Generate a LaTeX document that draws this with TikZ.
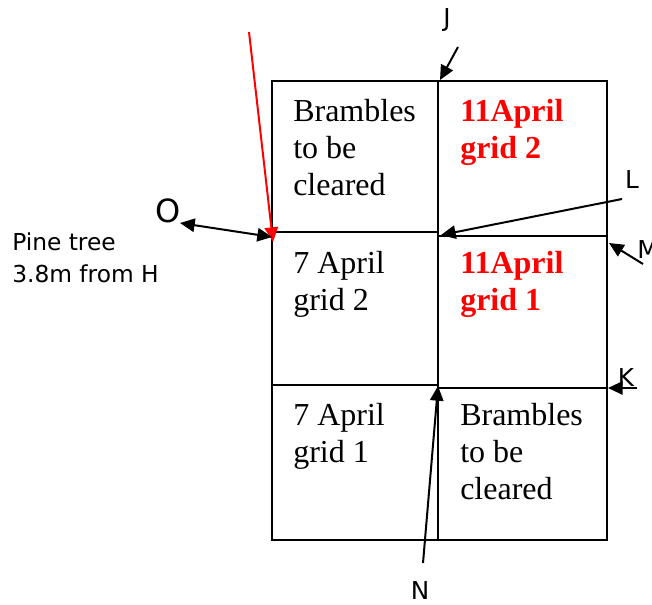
\documentclass[tikz,border=0pt]{standalone}
\usepackage{fontspec}
\setmainfont{Liberation Serif}
\newfontfamily\labelfont{DejaVu Sans}
\usetikzlibrary{arrows.meta,positioning}

\begin{document}
\begin{tikzpicture}[x=0.75pt,y=-0.75pt,
    cell/.style={draw,line width=0.8pt},
    celltext/.style={anchor=base west,align=left,inner sep=0pt,font=\fontsize{24}{27.75}\selectfont},
    redtext/.style={celltext,text=red,font=\fontsize{24}{27.75}\selectfont\bfseries},
    tag/.style={inner sep=0pt,font=\labelfont\fontsize{18.5}{24}\selectfont},
    pointer/.style={line width=1.5pt,-{Triangle[length=11pt,width=10pt]}}]

    \useasboundingbox (0,0) rectangle (652,604);

    % GRID
    % left column
    \draw[cell] (272,81) rectangle (438,232);
    \draw[cell] (272,232) rectangle (438,385);
    \draw[cell] (272,385) rectangle (438,540);
    % right column
    \draw[cell] (438,81) rectangle (607,236);
    \draw[cell] (438,236) rectangle (607,388);
    \draw[cell] (438,388) rectangle (607,540);

    % CELL TEXTS (base = last line)
    \node(b1) at (293,195) [celltext] {Brambles\\to be\\cleared};
    \node(r2) at (460,158) [redtext] {11April\\grid 2};
    \node(g2) at (293,310) [celltext] {7 April\\grid 2};
    \node(r1) at (460,310) [redtext] {11April\\grid 1};
    \node(g1) at (293,462) [celltext] {7 April\\grid 1};
    \node(b2) at (460,499) [celltext] {Brambles\\to be\\cleared};

    % LABELS
    \node(pine) at (12,282) [tag, anchor=base west, align=left, font=\labelfont\fontsize{17.5}{24}\selectfont] {Pine tree\\3.8m from H};
    \node(O) at (168,211) [tag, font=\labelfont\fontsize{24}{24}\selectfont] {O};
    \node(J) at (447,20) [tag] {J};
    \node(L) at (632,180) [tag] {L};
    \node(M) at (637,250) [tag, anchor=west] {M};
    \node(K) at (626,377) [tag] {K};
    \node(N) at (420,590) [tag] {N};

    % CORNERS
    \coordinate (cJ) at (440,80);
    \coordinate (cL) at (441,235);
    \coordinate (cH) at (272,237);
    \coordinate (cM) at (609,243);
    \coordinate (cK) at (608,388);
    \coordinate (cN) at (438,386);

    % FREE ENDS
    \coordinate (sRed) at (249,32);
    \coordinate (sRedEnd) at (273,242);
    \coordinate (sO) at (180,223);
    \coordinate (sJ) at (458,47);
    \coordinate (sL) at (622,199);
    \coordinate (sM) at (643,264);
    \coordinate (sK) at (637,388);
    \coordinate (sN) at (423,563);

    % POINTERS
    \draw[pointer, red] (sRed) -- (sRedEnd);
    \draw[pointer, {Triangle[length=11pt,width=10pt]}-{Triangle[length=11pt,width=10pt]}] (sO) -- (cH);
    \draw[pointer] (sJ) -- (cJ);
    \draw[pointer] (sL) -- (cL);
    \draw[pointer] (sM) -- (cM);
    \draw[pointer] (sK) -- (cK);
    \draw[pointer] (sN) -- (cN);

\end{tikzpicture}
\end{document}
